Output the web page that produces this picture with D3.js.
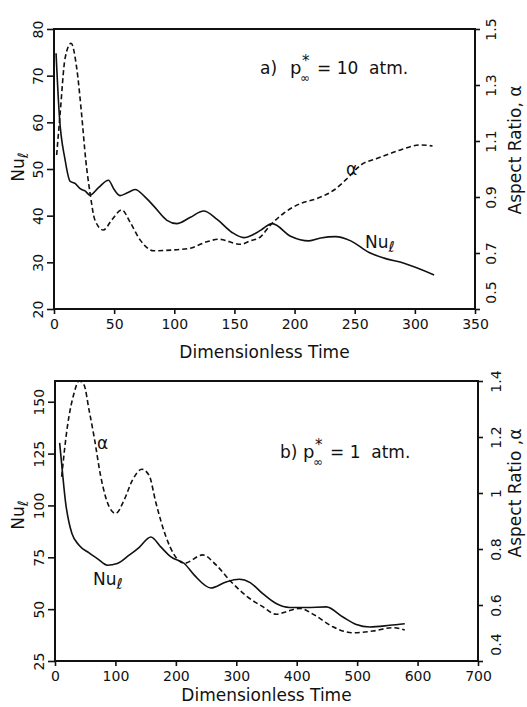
<!DOCTYPE html>
<html>
<head>
<meta charset="utf-8">
<script src="https://cdn.jsdelivr.net/npm/d3@7"></script>
<style>
  body { margin: 0; background: #fff; }
  text { font-family: "DejaVu Sans", sans-serif; fill: #111; }
</style>
</head>
<body>
<svg id="chart" width="527" height="707"></svg>
<script>

// panel a) p = 10 atm
var timeNuA = [1.7, 4.4, 9.2, 13.3, 17.5, 21.7, 25.8, 30, 37, 45.3, 50, 55, 61, 67.5, 75, 82.8, 93.9, 102, 113, 124.4, 135.6, 148, 157.8, 166, 172, 181.4, 196.7, 212, 221.7, 234, 246.7, 262, 274.4, 291, 316];
var nuA = [74.8, 61.6, 52, 47.4, 46.9, 45.8, 45.3, 44.4, 46, 47.6, 45.6, 44.3, 44.9, 45.6, 44.2, 42.1, 39, 38.3, 39.6, 41, 39.2, 36.4, 35.3, 36, 36.9, 38.3, 35.6, 34.6, 35.2, 35.5, 34.6, 32.1, 30.9, 29.8, 27.3];
var timeAlphaA = [2.2, 5, 9.2, 14.2, 18.9, 23, 26.4, 30, 34, 41, 48, 56.4, 63, 71.7, 82.8, 99.4, 113, 127, 137, 155, 163, 171.7, 180, 191, 205, 218.9, 232.8, 244, 255, 268.9, 288, 305, 314.7];
var alphaA = [1.05, 1.193, 1.395, 1.449, 1.36, 1.193, 1.032, 0.913, 0.818, 0.782, 0.818, 0.854, 0.812, 0.746, 0.708, 0.711, 0.717, 0.74, 0.749, 0.731, 0.743, 0.758, 0.8, 0.842, 0.877, 0.895, 0.925, 0.967, 1.014, 1.038, 1.068, 1.086, 1.082];

// panel b) p = 1 atm
var timeNuB = [7.7, 12, 17.7, 23, 28, 39.8, 56.4, 70, 86.7, 103, 122.7, 139, 158.7, 175, 191.9, 214, 230.5, 258, 283, 305, 323, 343.8, 366, 388, 415.8, 449, 476.5, 498.6, 520.7, 553.9, 578.8];
var nuB = [130.2, 117, 101, 92, 86.5, 80.8, 77.1, 74.4, 71.2, 72, 76, 79.7, 84.8, 80, 75.2, 72, 66.4, 60.2, 63.1, 64.4, 62.8, 57.5, 52.7, 50.8, 50.8, 51.1, 46.2, 42.6, 41.4, 42.2, 43];
var timeAlphaB = [11, 20.5, 31.5, 39.8, 48, 56.4, 64.7, 75.8, 89.6, 100.6, 114.4, 128.2, 143.8, 155.9, 167, 183.6, 197.3, 214, 244.3, 266.5, 291.4, 318, 343.8, 366, 382.6, 404.6, 429.5, 459.9, 493, 526, 559, 578.8];
var alphaB = [1.058, 1.237, 1.356, 1.40, 1.386, 1.296, 1.201, 1.058, 0.951, 0.927, 0.975, 1.046, 1.085, 1.062, 0.965, 0.844, 0.779, 0.749, 0.779, 0.743, 0.683, 0.63, 0.594, 0.567, 0.576, 0.588, 0.564, 0.522, 0.501, 0.507, 0.519, 0.511];

// axis ticks
var timeTicksA = [0, 50, 100, 150, 200, 250, 300, 350];
var nuTicksA = [20, 30, 40, 50, 60, 70, 80];
var alphaTicksA = [0.5, 0.7, 0.9, 1.1, 1.3, 1.5];
var timeTicksB = [0, 100, 200, 300, 400, 500, 600, 700];
var nuTicksB = [25, 50, 75, 100, 125, 150];
var alphaTicksB = [0.4, 0.6, 0.8, 1, 1.2, 1.4];


var svg = d3.select('#chart');
svg.append('rect').attr('width', 527).attr('height', 707).attr('fill', '#fff');

drawPanel({
  id: 'a', left: 54, right: 475, top: 29, bottom: 309,
  xMax: 350, xTicks: timeTicksA,
  nuDomain: [20, 80], nuTicks: nuTicksA,
  aDomain: [0.5, 1.5], aTicks: alphaTicksA, aFormat: d3.format('.1f'),
  tNu: timeNuA, nu: nuA, tA: timeAlphaA, a: alphaA,
  rightLabelY: 21, rightTitle: 'Aspect Ratio, \u03b1',
  nuTitleY: 167, aTitleY: 150, xTitleY: 358
});

drawPanel({
  id: 'b', left: 55, right: 478, top: 381, bottom: 661,
  xMax: 700, xTicks: timeTicksB,
  nuDomain: [25, 160], nuTicks: nuTicksB,
  aDomain: [0.4, 1.4], aTicks: alphaTicksB, aFormat: function(d){ return d3.format('~g')(d); },
  tNu: timeNuB, nu: nuB, tA: timeAlphaB, a: alphaB,
  rightLabelY: 23, rightTitle: 'Aspect Ratio ,\u03b1',
  nuTitleY: 515, aTitleY: 493, xTitleY: 701
});

// panel annotations
pressureLabel('a)', '10', 260, 74, 290);
pressureLabel('b)', '1', 280, 458, 303);

nuLabel(365, 248);
nuLabel(93, 585);
svg.append('text').attr('x', 346).attr('y', 175).style('font-size', '17px').text('\u03b1');
svg.append('text').attr('x', 97).attr('y', 449).style('font-size', '17px').text('\u03b1');


function drawPanel(p){
  var x = d3.scaleLinear().domain([0, p.xMax]).range([p.left, p.right]);
  var yNu = d3.scaleLinear().domain(p.nuDomain).range([p.bottom, p.top]);
  var yA = d3.scaleLinear().domain(p.aDomain).range([p.bottom, p.top]);

  svg.append('clipPath').attr('id', 'clip' + p.id)
    .append('rect')
      .attr('x', p.left).attr('y', p.top)
      .attr('width', p.right - p.left).attr('height', p.bottom - p.top);

  var gx = svg.append('g').attr('transform', 'translate(0,' + p.bottom + ')')
    .call(d3.axisBottom(x).tickValues(p.xTicks).tickSize(5).tickPadding(5).tickFormat(d3.format('d')));
  var gl = svg.append('g').attr('transform', 'translate(' + p.left + ',0)')
    .call(d3.axisLeft(yNu).tickValues(p.nuTicks).tickSize(7));
  var gr = svg.append('g').attr('transform', 'translate(' + p.right + ',0)')
    .call(d3.axisRight(yA).tickValues(p.aTicks).tickSize(5).tickFormat(p.aFormat));

  [gx, gl, gr].forEach(function(g){
    g.select('.domain').remove();
    g.selectAll('.tick line').attr('stroke', '#111').attr('stroke-width', 1.6);
    g.selectAll('.tick text').style('font-size', '14px').attr('fill', '#111');
  });

  gl.selectAll('.tick text')
    .attr('transform', 'rotate(-90)').attr('x', 0).attr('y', -11).attr('dy', 0)
    .attr('text-anchor', 'middle');
  gr.selectAll('.tick text')
    .attr('transform', 'rotate(-90)').attr('x', 0).attr('y', p.rightLabelY).attr('dy', 0)
    .attr('text-anchor', 'middle');
  // lowest right label sits a little above the corner, as in the original
  gr.selectAll('.tick text').filter(function(d, i){ return i === 0; }).attr('x', 17);

  svg.append('rect')
    .attr('x', p.left).attr('y', p.top)
    .attr('width', p.right - p.left).attr('height', p.bottom - p.top)
    .attr('fill', 'none').attr('stroke', '#111').attr('stroke-width', 2);

  var nuLine = d3.line().curve(d3.curveMonotoneX)
    .x(function(d, i){ return x(p.tNu[i]); })
    .y(function(d){ return yNu(d); });
  var aLine = d3.line().curve(d3.curveMonotoneX)
    .x(function(d, i){ return x(p.tA[i]); })
    .y(function(d){ return yA(d); });

  svg.append('path').datum(p.nu)
    .attr('clip-path', 'url(#clip' + p.id + ')')
    .attr('d', nuLine)
    .attr('fill', 'none').attr('stroke', '#111').attr('stroke-width', 1.6);

  svg.append('path').datum(p.a)
    .attr('clip-path', 'url(#clip' + p.id + ')')
    .attr('d', aLine)
    .attr('fill', 'none').attr('stroke', '#111').attr('stroke-width', 1.6)
    .attr('stroke-dasharray', '5,3');

  // axis titles
  var t = svg.append('text')
    .attr('transform', 'translate(24,' + p.nuTitleY + ') rotate(-90)')
    .attr('text-anchor', 'middle').style('font-size', '17px');
  t.append('tspan').text('Nu');
  t.append('tspan').attr('dy', 4).style('font-size', '14px').text('\u2113');

  svg.append('text')
    .attr('transform', 'translate(521,' + p.aTitleY + ') rotate(-90)')
    .attr('text-anchor', 'middle').style('font-size', '17px')
    .text(p.rightTitle);

  svg.append('text')
    .attr('x', (p.left + p.right) / 2).attr('y', p.xTitleY)
    .attr('text-anchor', 'middle').style('font-size', '17px')
    .text('Dimensionless Time');
}

function pressureLabel(tag, val, x0, y0, px){
  svg.append('text').attr('x', x0).attr('y', y0).style('font-size', '17px').text(tag);
  svg.append('text').attr('x', px).attr('y', y0).style('font-size', '18px').text('p');
  svg.append('text').attr('x', px + 12).attr('y', y0 - 8).style('font-size', '15px').text('*');
  svg.append('text').attr('x', px + 10).attr('y', y0 + 8).style('font-size', '12px').text('\u221e');
  svg.append('text').attr('x', px + 27).attr('y', y0).style('font-size', '17px')
    .attr('xml:space', 'preserve').text('= ' + val + '  atm.');
}

function nuLabel(x0, y0){
  var t = svg.append('text').attr('x', x0).attr('y', y0).style('font-size', '17px');
  t.append('tspan').text('Nu');
  t.append('tspan').attr('dy', 4).style('font-size', '15px').text('\u2113');
}
</script>
</body>
</html>
